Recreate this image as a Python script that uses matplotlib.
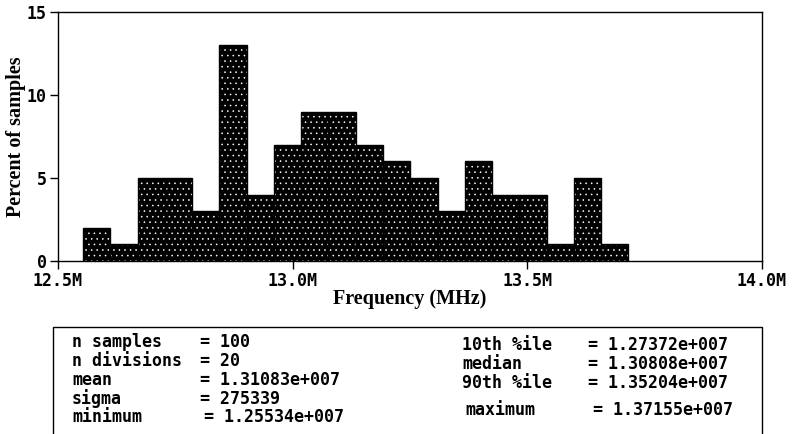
import numpy as np
import matplotlib
matplotlib.use('Agg')
from matplotlib import pyplot as plt
from matplotlib.patches import Rectangle
from matplotlib.font_manager import FontProperties

# histogram data (percent of samples per bin), 20 bins between min and max
counts = [2, 1, 5, 5, 3, 13, 4, 7, 9, 9, 7, 6, 5, 3, 6, 4, 4, 1, 5, 1]
f_min = 1.25534e7
f_max = 1.37155e7
n_div = 20

x_ticks = [12.5e6, 13.0e6, 13.5e6, 14.0e6]
x_tick_labels = ['12.5M', '13.0M', '13.5M', '14.0M']
y_ticks = [0, 5, 10, 15]

stats_left = [('n samples', '= 100'), ('n divisions', '= 20'), ('mean', '= 1.31083e+007'),
              ('sigma', '= 275339'), ('minimum', '= 1.25534e+007')]
stats_right = [('10th %ile', '= 1.27372e+007'), ('median', '= 1.30808e+007'),
               ('90th %ile', '= 1.35204e+007'), ('maximum', '= 1.37155e+007')]

W, H = 794, 434
plt.rcParams['hatch.linewidth'] = 0.4
fig = plt.figure(figsize=(W / 100, H / 100), dpi=100)
ax = fig.add_axes([58 / W, 1 - 261 / H, (762 - 58) / W, (261 - 12) / H])

edges = np.linspace(f_min, f_max, n_div + 1)
ax.bar(edges[:-1], counts, width=np.diff(edges), align='edge',
       facecolor='black', edgecolor='white', hatch='...', linewidth=0)
ax.bar(edges[:-1], counts, width=np.diff(edges), align='edge',
       facecolor='none', edgecolor='black', linewidth=1)

ax.set_xlim(12.5e6, 14.0e6)
ax.set_ylim(0, 15)
ax.set_xticks(x_ticks)
ax.set_xticklabels(x_tick_labels)
ax.set_yticks(y_ticks)
mono = dict(family='DejaVu Sans Mono', weight='bold', size=12)
for lab in ax.get_xticklabels() + ax.get_yticklabels():
    lab.set_fontproperties(FontProperties(**mono))
ax.tick_params(direction='out', length=6, width=1, pad=2)
for s in ax.spines.values():
    s.set_linewidth(1)

serif = dict(family='Liberation Serif', weight='bold', size=14.5)
ax.set_ylabel('Percent of samples', fontdict=serif, va='center')
ax.yaxis.set_label_coords((16 - 58) / 704, 0.5)
ax.set_xlabel('Frequency (MHz)', fontdict=serif, va='center')
ax.xaxis.set_label_coords(0.5, (261 - 299) / 249)

# stats box
fig.patches.append(Rectangle((53 / W, -0.05), (762 - 53) / W, 1.05 - 327 / H,
                             transform=fig.transFigure, fill=False,
                             edgecolor='black', linewidth=1))
left_y = [342, 361, 380, 399, 417]
left_eq = [200, 200, 200, 200, 204]
for (lab, val), y, xe in zip(stats_left, left_y, left_eq):
    fig.text(72 / W, 1 - y / H, lab, va='center', ha='left', **mono)
    fig.text(xe / W, 1 - y / H, val, va='center', ha='left', **mono)
right_y = [345, 364, 383, 410]
right_x = [462, 462, 462, 465]
right_eq = [588, 588, 588, 593]
for (lab, val), y, xl, xe in zip(stats_right, right_y, right_x, right_eq):
    fig.text(xl / W, 1 - y / H, lab, va='center', ha='left', **mono)
    fig.text(xe / W, 1 - y / H, val, va='center', ha='left', **mono)

fig.savefig('out.png', dpi=100)
